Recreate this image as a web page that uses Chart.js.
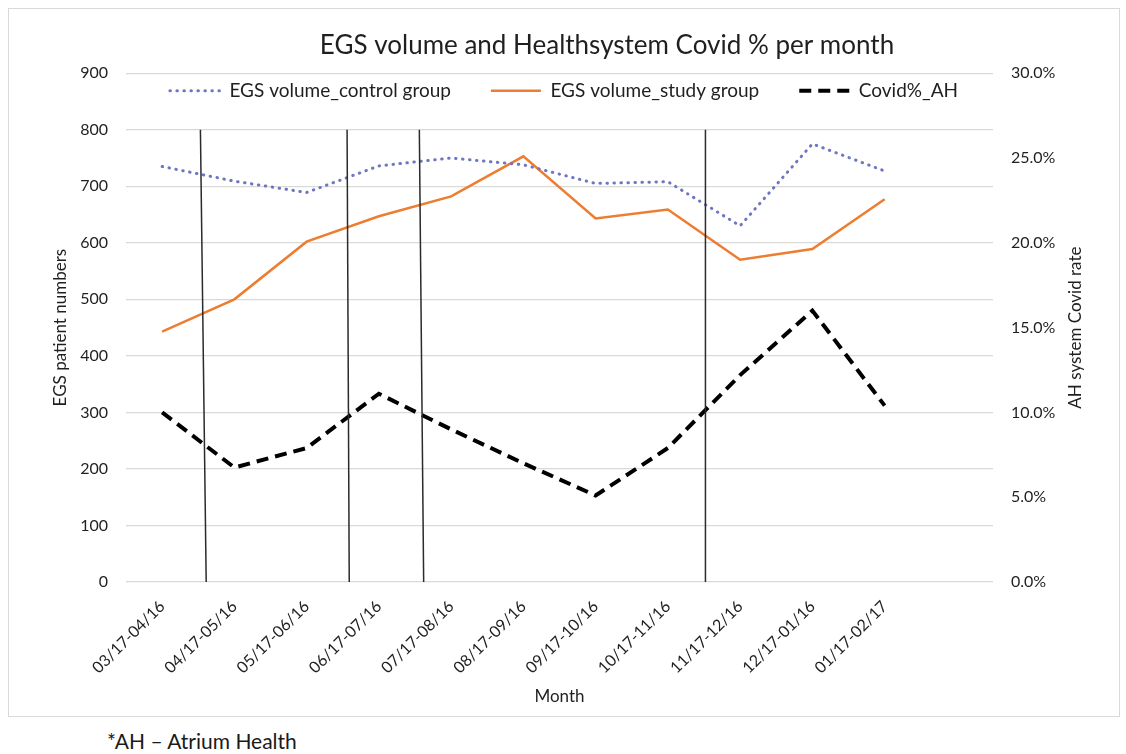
<!DOCTYPE html>
<html>
<head>
<meta charset="utf-8">
<script src="https://cdn.jsdelivr.net/npm/chart.js@4.4.1/dist/chart.umd.min.js"></script>
<style>
  html, body { margin: 0; background: #fff; }
  #frame { position: absolute; left: 8px; top: 8px; width: 1112px; height: 709px;
           border: 1px solid #d9d9d9; box-sizing: border-box; }
  #note { position: absolute; left: 107px; top: 728px; font: 21px Lato, sans-serif; color: #1a1a1a; }
</style>
</head>
<body>
<div id="frame"><canvas id="chart" width="1110" height="707"></canvas></div>
<div id="note">*AH – Atrium Health</div>
<script>
// === Data ===
const months = ["03/17-04/16", "04/17-05/16", "05/17-06/16", "06/17-07/16", "07/17-08/16",
  "08/17-09/16", "09/17-10/16", "10/17-11/16", "11/17-12/16", "12/17-01/16", "01/17-02/17", ""];
const controlGroup = [735, 709, 689, 736, 750, 738, 705, 708, 630, 775, 727, null];
const studyGroup = [443, 500, 602, 647, 682, 753, 643, 659, 570, 589, 677, null];
const covidPct = [10.0, 6.75, 7.9, 11.1, 9.0, 7.0, 5.1, 7.9, 12.2, 16.0, 10.4, null];
// vertical marker lines, in category units (top end / bottom end) and their top value
const markerTop = [0.53, 2.56, 3.56, 7.52];
const markerBottom = [0.61, 2.59, 3.62, 7.52];
const markerMax = 800;
const rightTitle = "AH system Covid rate";

const FONT = "Lato";
const TEXT = "#1f1f1f";

// draw the hand-placed vertical lines through the scales
const markers = {
  id: "markers",
  afterDatasetsDraw(chart) {
    const { ctx, scales: { x, y } } = chart;
    ctx.save();
    ctx.strokeStyle = "#2b2b2b";
    ctx.lineWidth = 1.5;
    markerTop.forEach((t, i) => {
      ctx.beginPath();
      ctx.moveTo(x.getPixelForValue(t), y.getPixelForValue(markerMax));
      ctx.lineTo(x.getPixelForValue(markerBottom[i]), y.getPixelForValue(0));
      ctx.stroke();
    });
    ctx.restore();
  }
};

// right axis title reads bottom-to-top, like the left one
const rightAxisTitle = {
  id: "rightAxisTitle",
  afterDraw(chart) {
    const { ctx, scales: { y1 } } = chart;
    ctx.save();
    ctx.translate(y1.right - 43, (y1.top + y1.bottom) / 2);
    ctx.rotate(-Math.PI / 2);
    ctx.fillStyle = TEXT;
    ctx.font = "17px " + FONT;
    ctx.textAlign = "center";
    ctx.textBaseline = "middle";
    ctx.fillText(rightTitle, 0, 0);
    ctx.restore();
  }
};

// legend sits inside the plot area like in Excel: shrink its layout height, no clipping;
// title is a bit right of centre in the original
const boxTweaks = {
  id: "boxTweaks",
  beforeLayout(chart) {
    const lg = chart.legend;
    if (lg && !lg._patched) {
      const fit = lg.fit;
      lg.fit = function () { fit.call(this); this.height = 32; };
      lg.draw = function () { if (this.options.display) this._draw(); };
      lg._patched = true;
    }
  },
  afterLayout(chart) {
    const t = chart.titleBlock;
    if (t) { t.left += 43; t.right += 43; }
  }
};

new Chart(document.getElementById("chart"), {
  type: "line",
  data: {
    labels: months,
    datasets: [
      {
        label: "EGS volume_control group",
        data: controlGroup,
        yAxisID: "y",
        borderColor: "#6f76c0",
        borderWidth: 3,
        borderDash: [0.5, 6.5],
        borderCapStyle: "round",
        pointRadius: 0,
        tension: 0
      },
      {
        label: "EGS volume_study group",
        data: studyGroup,
        yAxisID: "y",
        borderColor: "#ed7d31",
        borderWidth: 2.5,
        pointRadius: 0,
        tension: 0
      },
      {
        label: "Covid%_AH",
        data: covidPct,
        yAxisID: "y1",
        borderColor: "#000",
        borderWidth: 4,
        borderDash: [12, 7],
        pointRadius: 0,
        tension: 0
      }
    ]
  },
  options: {
    responsive: false,
    animation: false,
    layout: { padding: { left: 0, right: 0, top: 0, bottom: 9 } },
    plugins: {
      tooltip: { enabled: false },
      title: {
        display: true,
        text: "EGS volume and Healthsystem Covid % per month",
        color: TEXT,
        font: { family: FONT, size: 26, weight: "normal" },
        padding: { top: 21, bottom: -20 }
      },
      legend: {
        position: "top",
        labels: {
          usePointStyle: true,
          pointStyle: "line",
          pointStyleWidth: 50,
          padding: 40,
          color: TEXT,
          font: { family: FONT, size: 19 },
          generateLabels: chart => chart.data.datasets.map((ds, i) => ({
            text: ds.label,
            fontColor: TEXT,
            strokeStyle: ds.borderColor,
            fillStyle: ds.borderColor,
            lineWidth: ds.borderWidth,
            lineDash: ds.borderDash || [],
            lineCap: ds.borderCapStyle || "butt",
            pointStyle: "line",
            hidden: false,
            datasetIndex: i
          }))
        }
      }
    },
    scales: {
      x: {
        offset: true,
        grid: { display: false },
        border: { display: false },
        ticks: {
          autoSkip: false, minRotation: 45, maxRotation: 45, padding: 7,
          color: TEXT, font: { family: FONT, size: 16 }
        },
        title: {
          display: true, text: "Month", color: TEXT,
          font: { family: FONT, size: 17 }, padding: { top: 0, bottom: 0 }
        },
        afterFit(s) { s.height = 125; }
      },
      y: {
        position: "left",
        min: 0, max: 900,
        grid: { color: "#d9d9d9", lineWidth: 1.3, drawTicks: false },
        border: { display: false },
        ticks: { stepSize: 100, padding: 18, color: TEXT, font: { family: FONT, size: 16 } },
        title: {
          display: true, text: "EGS patient numbers", color: TEXT,
          font: { family: FONT, size: 17 }, padding: { top: 41, bottom: 0 }
        },
        afterFit(s) { s.width = 117; }
      },
      y1: {
        position: "right",
        min: 0, max: 30,
        grid: { display: false, drawTicks: false },
        border: { display: false },
        ticks: {
          stepSize: 5, padding: 18, color: TEXT, font: { family: FONT, size: 16 },
          callback: v => v.toFixed(1) + "%"
        },
        afterFit(s) { s.width = 126; }
      }
    }
  },
  plugins: [markers, rightAxisTitle, boxTweaks]
});
</script>
</body>
</html>
